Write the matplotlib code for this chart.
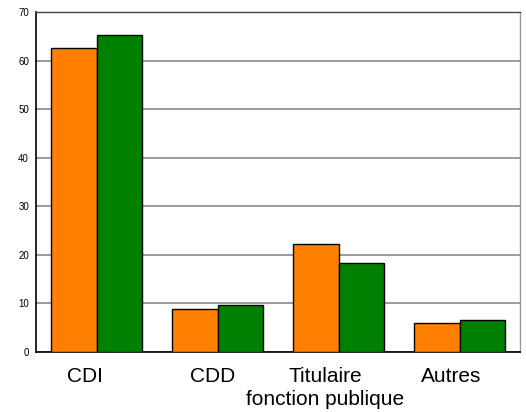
import matplotlib
matplotlib.use("Agg")
import matplotlib.pyplot as plt
import matplotlib.transforms as mtransforms
import numpy as np

categories = ["CDI", "CDD", "Titulaire\nfonction publique", "Autres"]
series_a = [62.6, 8.85, 22.3, 6.0]
series_b = [65.3, 9.6, 18.3, 6.6]
yticks = [0, 10, 20, 30, 40, 50, 60, 70]

plt.rcParams['font.family'] = ['Liberation Sans', 'DejaVu Sans']

fig = plt.figure(figsize=(5.26, 4.12), dpi=100)
ax = fig.add_axes([36/526, 1 - 352/412, (520-36)/526, (352-12)/412])

x = np.arange(len(categories))
w = 0.372
ax.bar(x - w/2, series_a, w, color="#FF8000", edgecolor="black", linewidth=1, zorder=3)
ax.bar(x + w/2, series_b, w, color="#008000", edgecolor="black", linewidth=1, zorder=3)

ax.set_xlim(-0.5, 3.5)
ax.set_ylim(0, 70)
ax.set_yticks(yticks)
ax.set_yticklabels([str(t) for t in yticks], fontsize=7)
ax.yaxis.grid(True, color="#8a8a8a", linewidth=1.2, zorder=0)
ax.set_axisbelow(True)
ax.tick_params(axis='y', length=0, pad=5)

ax.set_xticks(x)
ax.set_xticklabels(categories, fontsize=15, linespacing=1.22)
ax.tick_params(axis='x', length=0, pad=11)
label_shift_px = [-12, -5, -13, -8]
for lbl, dx in zip(ax.get_xticklabels(), label_shift_px):
    off = mtransforms.ScaledTranslation(dx/100, 0, fig.dpi_scale_trans)
    lbl.set_transform(lbl.get_transform() + off)

ax.spines['left'].set_color('black')
ax.spines['left'].set_linewidth(1.2)
ax.spines['bottom'].set_color('black')
ax.spines['bottom'].set_linewidth(1.2)
ax.spines['top'].set_color('#444444')
ax.spines['top'].set_linewidth(1)
ax.spines['right'].set_color('#999999')
ax.spines['right'].set_linewidth(1)

fig.savefig("out.png", dpi=100)
